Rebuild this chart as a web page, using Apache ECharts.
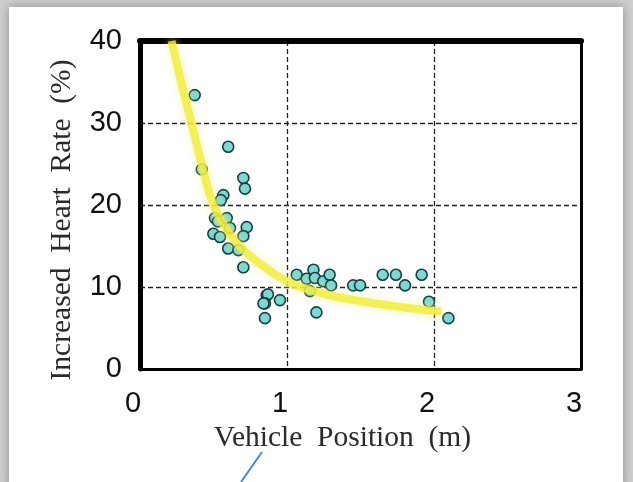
<!DOCTYPE html>
<html><head><meta charset="utf-8">
<script src="https://cdn.jsdelivr.net/npm/echarts@6/dist/echarts.min.js"></script>
<style>html,body{margin:0;padding:0;background:#fff}#c{width:633px;height:482px}</style>
</head><body><div id="c"></div>
<script>
// Scatter data: vehicle position (m) vs increased heart rate (%)
var posX = [0.372, 0.60, 0.42, 0.703, 0.714, 0.567, 0.55, 0.51, 0.53, 0.59, 0.499, 0.544, 0.612, 0.726, 0.703, 0.60, 0.669, 0.703,
            0.862, 0.87, 0.85, 0.84, 0.952, 0.85, 1.066, 1.134, 1.18, 1.19, 1.156, 1.247, 1.29, 1.30, 1.20, 1.45, 1.497,
            1.651, 1.741, 1.803, 1.916, 1.966, 2.098];
var heartY = [33.4, 27.1, 24.35, 23.3, 22.0, 21.2, 20.6, 18.4, 18.0, 18.4, 16.5, 16.1, 17.2, 17.3, 16.2, 14.7, 14.5, 12.4,
              9.0, 9.1, 8.0, 8.0, 8.4, 6.2, 11.5, 11.0, 12.1, 11.1, 9.5, 10.7, 11.5, 10.2, 6.9, 10.2, 10.2,
              11.5, 11.5, 10.2, 11.5, 8.2, 6.2];
// Fitted curve
var fitX = [0.215, 0.28, 0.35, 0.42, 0.5, 0.6, 0.7, 0.82, 1.0, 1.2, 1.4, 1.6, 1.8, 2.05];
var fitY = [40, 35, 30, 25, 20, 16.8, 14.6, 12.8, 10.7, 9.4, 8.6, 8.0, 7.5, 7.0];
// Axis ticks
var xTicks = [0, 1, 2, 3];
var yTicks = [0, 10, 20, 30, 40];
var xTitle = 'Vehicle  Position  (m)';
var yTitle = 'Increased  Heart  Rate  (%)';

var scatterData = posX.map(function (x, i) { return [x, heartY[i]]; });
var fitData = fitX.map(function (x, i) { return [x, fitY[i]]; });

var chart = echarts.init(document.getElementById('c'), null, {renderer: 'canvas'});
var labelFont = {fontFamily: 'Liberation Sans, Arial, sans-serif', fontSize: 29, color: '#111'};
var serif = 'Liberation Serif, Times New Roman, serif';
chart.setOption({
  backgroundColor: '#cfcfcf',
  animation: false,
  graphic: [
    {type: 'rect', z: -100, shape: {x: 9, y: 7, width: 614, height: 480},
     style: {fill: '#fff', shadowBlur: 10, shadowColor: 'rgba(0,0,0,0.35)'}},
    {type: 'line', z: 100, shape: {x1: 262, y1: 452, x2: 241, y2: 482},
     style: {stroke: '#4a86d0', lineWidth: 2}}
  ],
  grid: {left: 140, right: 52, top: 41, bottom: 113, show: false},
  xAxis: [{
    type: 'value', min: xTicks[0], max: xTicks[xTicks.length - 1], interval: 1, position: 'bottom',
    axisLine: {show: true, onZero: false, lineStyle: {color: '#000', width: 3}},
    axisTick: {show: false},
    axisLabel: Object.assign({margin: 20, padding: [0, 14, 0, 0]}, labelFont),
    splitLine: {show: true, lineStyle: {color: '#222', width: 1.3, type: [5, 3]}},
    name: xTitle, nameLocation: 'middle', nameGap: 52,
    nameTextStyle: {fontFamily: serif, fontSize: 29.5, color: '#2a2a2a', padding: [0, 36, 0, 0]}
  }, {
    type: 'value', min: 0, max: 3, interval: 1, position: 'top',
    axisLine: {show: true, onZero: false, lineStyle: {color: '#000', width: 6}},
    axisTick: {show: false}, axisLabel: {show: false}, splitLine: {show: false}
  }],
  yAxis: [{
    type: 'value', min: yTicks[0], max: yTicks[yTicks.length - 1], interval: 10, position: 'left',
    axisLine: {show: true, onZero: false, lineStyle: {color: '#000', width: 5}},
    axisTick: {show: false},
    axisLabel: Object.assign({margin: 18, padding: [8, 0, 0, 0]}, labelFont),
    splitLine: {show: true, lineStyle: {color: '#222', width: 1.3, type: [5, 3]}},
    name: yTitle, nameLocation: 'middle', nameGap: 63,
    nameTextStyle: {fontFamily: serif, fontSize: 29.5, color: '#2a2a2a', padding: [0, 30, 0, 0]}
  }, {
    type: 'value', min: 0, max: 40, interval: 10, position: 'right',
    axisLine: {show: true, onZero: false, lineStyle: {color: '#000', width: 3}},
    axisTick: {show: false}, axisLabel: {show: false}, splitLine: {show: false}
  }],
  series: [{
    type: 'scatter', data: scatterData, symbol: 'circle', symbolSize: 11, z: 3,
    itemStyle: {color: '#7fd6d2', borderColor: '#14403f', borderWidth: 1.6, opacity: 1}
  }, {
    type: 'line', data: fitData, smooth: true, symbol: 'none', z: 4,
    lineStyle: {color: 'rgba(240,236,60,0.8)', width: 8, shadowBlur: 8, shadowColor: 'rgba(245,240,120,0.8)'}
  }]
});
</script></body></html>
